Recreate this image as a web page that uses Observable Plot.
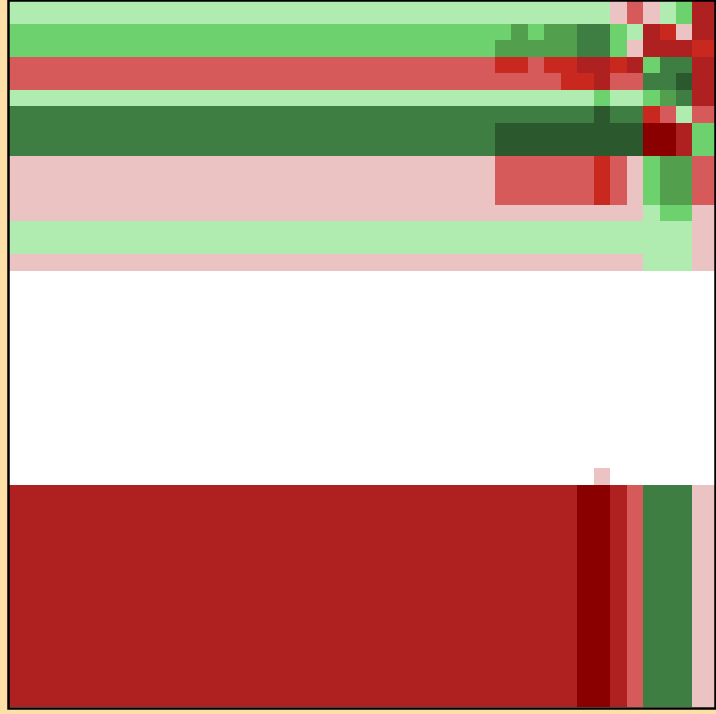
<!DOCTYPE html>
<html>
<head>
<meta charset="utf-8">
<script src="https://cdn.jsdelivr.net/npm/d3@7"></script>
<script src="https://cdn.jsdelivr.net/npm/@observablehq/plot@0.6"></script>
<style>
  html, body { margin: 0; padding: 0; background: #ffdfa8; }
  #chart svg { display: block; }
</style>
</head>
<body>
<div id="chart"></div>
<script>
// Column edges (grid units): wide left column, then 13 narrow columns
const colEdges = [-30, 0, 1, 2, 3, 4, 5, 6, 7, 8, 9, 10, 11, 12, 14];
// Row bands (grid units)
const rowBands = [
  [-2, 0], [0, 1], [1, 2], [2, 3], [3, 4], [4, 5], [5, 6],
  [6, 8], [8, 11], [11, 12], [12, 14], [14, 15], [27, 28], [28, 41.5]
];
// Level codes per row band and column (+ = green shades, - = red shades, 0 = empty)
const rowLevels = [
  [ 1, 1, 1, 1, 1, 1, 1, 1,-1,-2,-1, 1, 2,-4],
  [ 2, 2, 3, 2, 3, 3, 4, 4, 2, 1,-4,-3,-1,-4],
  [ 2, 3, 3, 3, 3, 3, 4, 4, 2,-1,-4,-4,-4,-3],
  [-2,-3,-3,-2,-3,-3,-4,-4,-3,-4, 2, 4, 4,-4],
  [-2,-2,-2,-2,-2,-3,-3,-4,-2,-2, 4, 4, 5,-4],
  [ 1, 1, 1, 1, 1, 1, 1, 2, 1, 1, 2, 3, 4,-4],
  [ 4, 4, 4, 4, 4, 4, 4, 5, 4, 4,-3,-2, 1,-2],
  [ 4, 5, 5, 5, 5, 5, 5, 5, 5, 5,-5,-5,-4, 2],
  [-1,-2,-2,-2,-2,-2,-2,-3,-2,-1, 2, 3, 3,-2],
  [-1,-1,-1,-1,-1,-1,-1,-1,-1,-1, 1, 2, 2,-1],
  [ 1, 1, 1, 1, 1, 1, 1, 1, 1, 1, 1, 1, 1,-1],
  [-1,-1,-1,-1,-1,-1,-1,-1,-1,-1, 1, 1, 1,-1],
  [ 0, 0, 0, 0, 0, 0, 0,-1, 0, 0, 0, 0, 0, 0],
  [-4,-4,-4,-4,-4,-4,-5,-5,-4,-2, 4, 4, 4,-1]
];
const levelDomain = [-5, -4, -3, -2, -1, 1, 2, 3, 4, 5];
const levelColors = ["#8a0000", "#af2020", "#c9281f", "#d65a5a", "#ebc3c3",
                     "#b0ecb0", "#6dd26e", "#52a04e", "#3f7e42", "#2b582c"];

// Build rects, merging equal neighbouring codes within a row
const cells = [];
rowBands.forEach(([y1, y2], r) => {
  const lv = rowLevels[r];
  let start = 0;
  for (let c = 1; c <= lv.length; c++) {
    if (c === lv.length || lv[c] !== lv[start]) {
      if (lv[start] !== 0) {
        cells.push({x1: colEdges[start], x2: colEdges[c], y1, y2, level: lv[start]});
      }
      start = c;
    }
  }
});

const chart = Plot.plot({
  width: 716,
  height: 714,
  marginTop: 0,
  marginLeft: 8,
  marginRight: 1,
  marginBottom: 6,
  style: {background: "#ffdfa8"},
  x: {domain: [-29.6, 13.37], axis: null},
  y: {domain: [-1.46, 41.58], reverse: true, axis: null},
  color: {type: "ordinal", domain: levelDomain, range: levelColors},
  marks: [
    Plot.frame({fill: "white"}),
    Plot.rect(cells, {x1: "x1", x2: "x2", y1: "y1", y2: "y2", fill: "level", clip: true, shapeRendering: "crispEdges"}),
    Plot.frame({stroke: "black", strokeWidth: 2.5})
  ]
});
document.getElementById("chart").appendChild(chart);
</script>
</body>
</html>
